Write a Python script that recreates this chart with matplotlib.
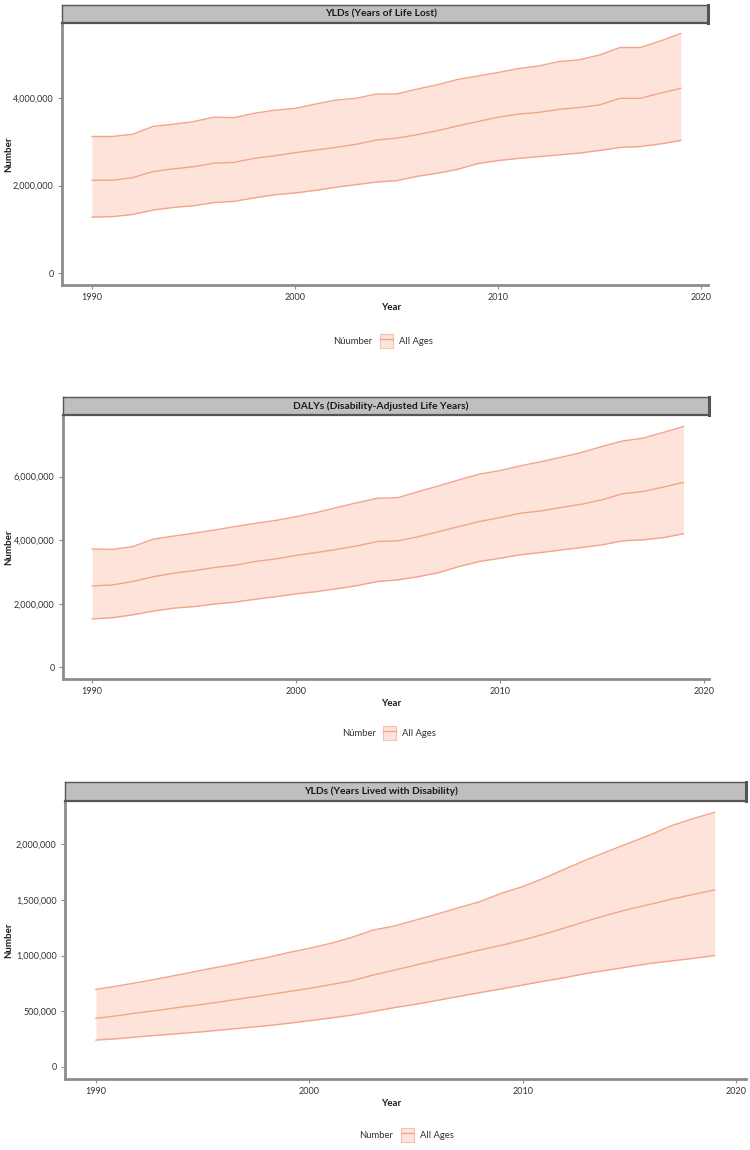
import numpy as np
import matplotlib
matplotlib.use("Agg")
import matplotlib.pyplot as plt
from matplotlib.patches import Patch
from matplotlib.lines import Line2D
from matplotlib.ticker import FuncFormatter

plt.rcParams['font.family'] = ['Lato', 'DejaVu Sans']

# Data
years = list(range(1990, 2020))

# YLDs (Years of Life Lost), millions
yll_upper = [3.12, 3.12, 3.17, 3.35, 3.40, 3.46, 3.56, 3.55, 3.65, 3.72, 3.76, 3.86, 3.95, 3.99, 4.09,
             4.09, 4.20, 4.30, 4.42, 4.50, 4.58, 4.67, 4.73, 4.83, 4.87, 4.98, 5.15, 5.15, 5.30, 5.47]
yll_mid = [2.12, 2.12, 2.18, 2.32, 2.38, 2.43, 2.51, 2.53, 2.62, 2.68, 2.75, 2.81, 2.87, 2.94, 3.04,
           3.08, 3.16, 3.25, 3.36, 3.46, 3.56, 3.63, 3.67, 3.74, 3.78, 3.84, 3.99, 3.99, 4.11, 4.22]
yll_lower = [1.28, 1.29, 1.34, 1.44, 1.50, 1.54, 1.61, 1.64, 1.72, 1.79, 1.83, 1.89, 1.96, 2.02, 2.08,
             2.11, 2.21, 2.28, 2.37, 2.50, 2.57, 2.62, 2.66, 2.70, 2.74, 2.80, 2.87, 2.89, 2.95, 3.03]

# DALYs, millions
daly_upper = [3.72, 3.71, 3.80, 4.03, 4.13, 4.22, 4.32, 4.43, 4.53, 4.62, 4.74, 4.87, 5.03, 5.18, 5.32,
              5.34, 5.53, 5.71, 5.90, 6.08, 6.19, 6.34, 6.47, 6.61, 6.76, 6.95, 7.12, 7.21, 7.39, 7.58]
daly_mid = [2.56, 2.59, 2.70, 2.85, 2.96, 3.04, 3.14, 3.21, 3.33, 3.41, 3.52, 3.61, 3.71, 3.82, 3.96,
            3.98, 4.11, 4.27, 4.43, 4.59, 4.71, 4.85, 4.92, 5.03, 5.13, 5.27, 5.46, 5.53, 5.67, 5.82]
daly_lower = [1.52, 1.56, 1.65, 1.77, 1.86, 1.91, 1.99, 2.05, 2.14, 2.22, 2.31, 2.38, 2.47, 2.57, 2.70,
              2.75, 2.85, 2.98, 3.17, 3.33, 3.43, 3.54, 3.61, 3.69, 3.77, 3.85, 3.98, 4.01, 4.08, 4.20]

# YLDs (Years Lived with Disability), thousands
yld_upper = [696, 726, 759, 795, 831, 870, 906, 945, 981, 1026, 1065, 1110, 1164, 1230, 1266,
             1320, 1374, 1430, 1485, 1560, 1620, 1695, 1780, 1862, 1938, 2013, 2087, 2170, 2232, 2288]
yld_mid = [435, 459, 486, 510, 537, 561, 588, 618, 645, 675, 705, 738, 774, 825, 870,
           915, 960, 1005, 1050, 1092, 1140, 1192, 1250, 1310, 1367, 1418, 1462, 1508, 1550, 1590]
yld_lower = [240, 252, 270, 285, 300, 315, 333, 351, 369, 390, 414, 438, 465, 498, 532,
             562, 597, 632, 667, 700, 735, 770, 802, 840, 870, 900, 930, 952, 975, 1000]

titles = ['YLDs (Years of Life Lost)',
          'DALYs (Disability-Adjusted Life Years)',
          'YLDs (Years Lived with Disability)']
legend_titles = ['Núumber', 'Númber', 'Number']
yticks_list = [[0, 2e6, 4e6], [0, 2e6, 4e6, 6e6], [0, 5e5, 1e6, 1.5e6, 2e6]]
xticks = [1990, 2000, 2010, 2020]

bands = [
    (np.array(yll_lower) * 1e6, np.array(yll_mid) * 1e6, np.array(yll_upper) * 1e6),
    (np.array(daly_lower) * 1e6, np.array(daly_mid) * 1e6, np.array(daly_upper) * 1e6),
    (np.array(yld_lower) * 1e3, np.array(yld_mid) * 1e3, np.array(yld_upper) * 1e3),
]

# layout in pixels: left, right, strip top, axes top, axes bottom
W, H = 750, 1150
boxes = [(62, 708, 5, 23, 285), (63, 709, 397, 415, 679), (65, 746, 782, 801, 1079)]
ylims = [(-0.27e6, 5.71e6), (-0.37e6, 7.94e6), (-0.11e6, 2.39e6)]
xlims = [(1988.52, 2020.34), (1988.57, 2020.25), (1988.55, 2020.47)]
year_y = [308, 703, 1104]
legend_y = [341, 733, 1135]
legend_label_x = [372, 376, 393]
legend_box_x = [380, 383, 401]

fill_c = '#fde3d9'
line_c = '#f3a58b'
spine_c = '#8c8c8c'

fig = plt.figure(figsize=(7.5, 11.5), dpi=100)

for i in range(3):
    l, r, st, top, bot = boxes[i]
    ax = fig.add_axes([l / W, 1 - bot / H, (r - l) / W, (bot - top) / H])
    lower, mid, upper = bands[i]
    ax.fill_between(years, lower, upper, color=fill_c, lw=0)
    for s in (lower, mid, upper):
        ax.plot(years, s, color=line_c, lw=1)
    ax.set_xlim(*xlims[i])
    ax.set_ylim(*ylims[i])
    ax.set_xticks(xticks)
    ax.set_yticks(yticks_list[i])
    ax.yaxis.set_major_formatter(FuncFormatter(lambda v, p: f'{v:,.0f}'))
    for side in ('top', 'right'):
        ax.spines[side].set_visible(False)
    for side in ('left', 'bottom'):
        ax.spines[side].set_color(spine_c)
        ax.spines[side].set_linewidth(2)
    ax.tick_params(length=3, width=0.8, color=spine_c, labelsize=6.5, labelcolor='#333333', pad=3)

    # grey strip on top
    sax = fig.add_axes([l / W, 1 - top / H, (r - l) / W, (top - st) / H])
    sax.set_facecolor('#bfbfbf')
    sax.set_xticks([])
    sax.set_yticks([])
    for side in sax.spines:
        sax.spines[side].set_color('#555555')
        sax.spines[side].set_linewidth(1)
    sax.spines['right'].set_linewidth(2.2)
    sax.spines['bottom'].set_linewidth(1.6)
    fig.text(381 / W, 1 - (st + top) / 2 / H, titles[i], ha='center', va='center',
             fontsize=7.4, fontweight='bold', color='#1a1a1a')

    fig.text(9 / W, 1 - (top + bot) / 2 / H, 'Number', rotation=90, ha='center', va='center',
             fontsize=7, fontweight='bold', color='#1a1a1a')
    fig.text(391 / W, 1 - year_y[i] / H, 'Year', ha='center', va='center',
             fontsize=7, fontweight='bold', color='#1a1a1a')

    # legend
    fig.text(legend_label_x[i] / W, 1 - legend_y[i] / H, legend_titles[i], ha='right', va='center',
             fontsize=6.8, color='#333333')
    handle = (Patch(facecolor=fill_c, edgecolor='#f6c2b0', lw=0.8), Line2D([], [], color=line_c, lw=1))
    fig.legend([handle], ['All Ages'], loc='center left',
               bbox_to_anchor=(legend_box_x[i] / W, 1 - legend_y[i] / H),
               frameon=False, fontsize=6.8, handlelength=1.4, handleheight=2.0,
               handletextpad=0.6, borderpad=0, borderaxespad=0, labelcolor='#333333')

fig.savefig('out.png', dpi=100)
